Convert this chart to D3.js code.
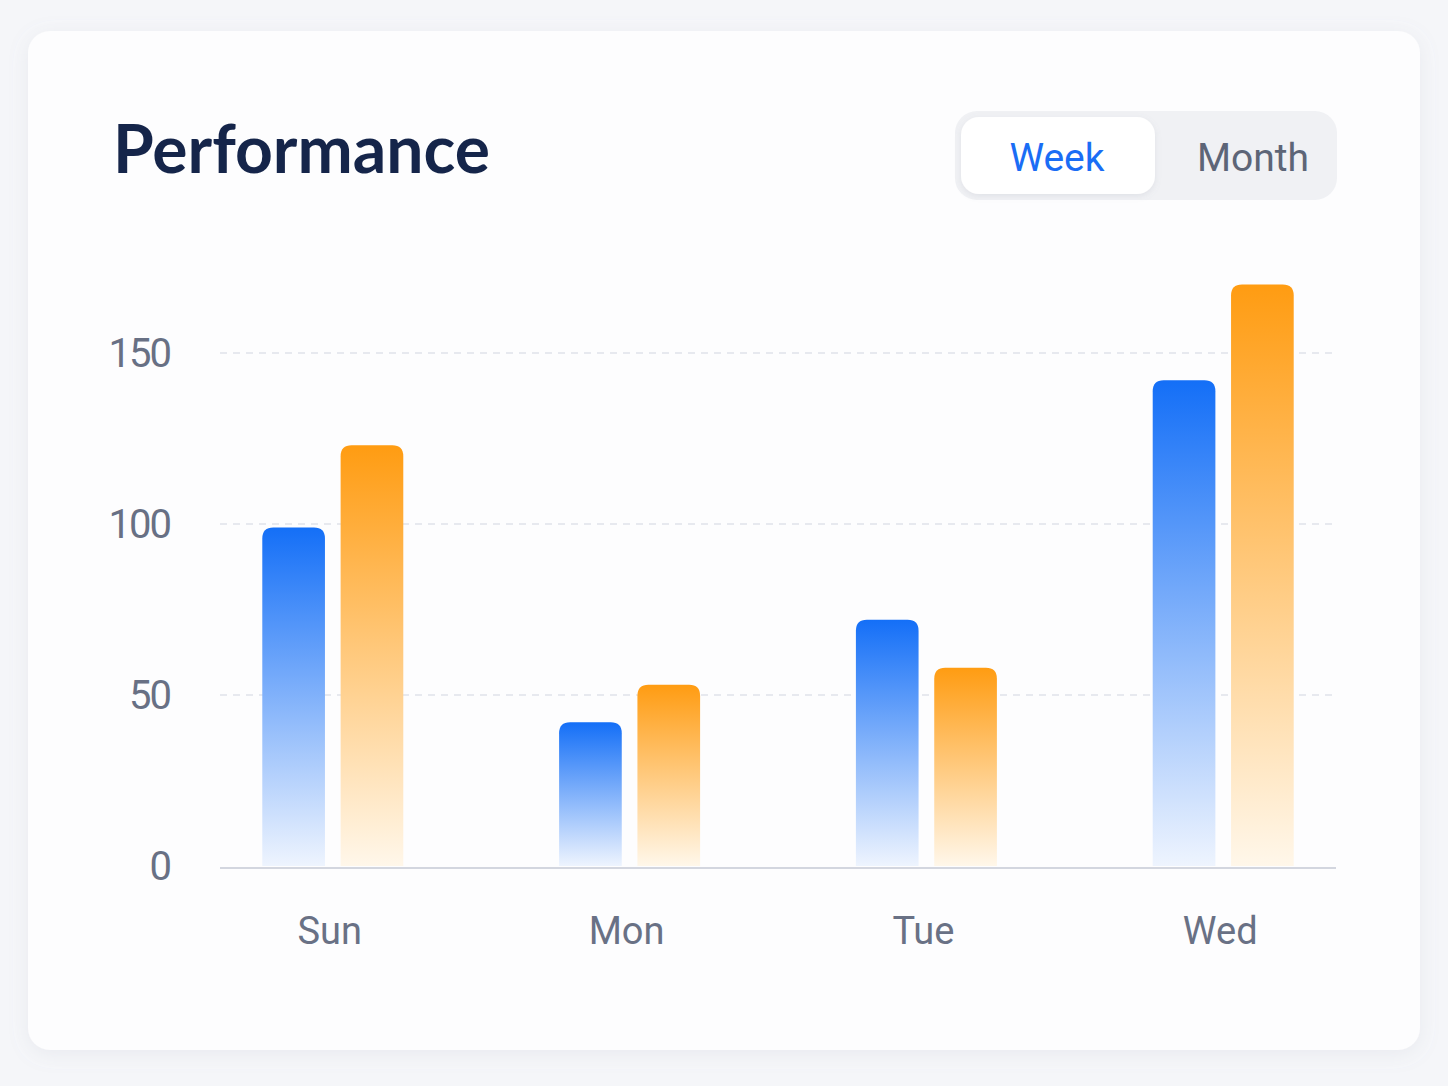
<!DOCTYPE html>
<html>
<head>
<meta charset="utf-8">
<script src="https://cdn.jsdelivr.net/npm/d3@7"></script>
<style>
  html, body { margin: 0; padding: 0; background: #f5f6f9; }
  svg { display: block; }
</style>
</head>
<body>
<div id="chart"></div>
<script>
const days = ["Sun", "Mon", "Tue", "Wed"];
const seriesKeys = ["blue", "orange"];
const blueValues = [99, 42, 72, 142];
const orangeValues = [123, 53, 58, 170];
const yTicks = [0, 50, 100, 150];
const toggleLabels = ["Week", "Month"];

const W = 1448, H = 1086;
const plot = { left: 220, right: 1336, top: 250, bottom: 866 };

const svg = d3.select("#chart").append("svg")
  .attr("width", W).attr("height", H)
  .style("font-family", "Roboto, 'Noto Sans', sans-serif");

const defs = svg.append("defs");

const shadow = defs.append("filter").attr("id", "cardShadow")
  .attr("x", "-10%").attr("y", "-10%").attr("width", "120%").attr("height", "120%");
shadow.append("feDropShadow").attr("dx", 0).attr("dy", 4).attr("stdDeviation", 10)
  .attr("flood-color", "#8a94a8").attr("flood-opacity", 0.12);

const btnShadow = defs.append("filter").attr("id", "btnShadow")
  .attr("x", "-20%").attr("y", "-30%").attr("width", "140%").attr("height", "160%");
btnShadow.append("feDropShadow").attr("dx", 0).attr("dy", 2).attr("stdDeviation", 3)
  .attr("flood-color", "#7d8799").attr("flood-opacity", 0.15);

const gradients = {
  blue: ["#146ff7", "#eef4fe"],
  orange: ["#ff9c12", "#fff7ea"],
};
Object.entries(gradients).forEach(([key, [top, bottom]]) => {
  const g = defs.append("linearGradient").attr("id", `grad-${key}`)
    .attr("x1", 0).attr("y1", 0).attr("x2", 0).attr("y2", 1);
  g.append("stop").attr("offset", "0%").attr("stop-color", top);
  g.append("stop").attr("offset", "100%").attr("stop-color", bottom);
});

// card
svg.append("rect")
  .attr("x", 28).attr("y", 31).attr("width", 1392).attr("height", 1019)
  .attr("rx", 22).attr("fill", "#fdfdfe")
  .attr("filter", "url(#cardShadow)");

// title
svg.append("text")
  .attr("x", 113).attr("y", 173)
  .attr("font-family", "Lato, Inter, sans-serif")
  .attr("font-weight", 700)
  .attr("font-size", 66)
  .attr("fill", "#15254a")
  .text("Performance");

// toggle
const toggle = svg.append("g");
toggle.append("rect")
  .attr("x", 955).attr("y", 111).attr("width", 382).attr("height", 89)
  .attr("rx", 22).attr("fill", "#f0f1f4");
toggle.append("rect")
  .attr("x", 961).attr("y", 117).attr("width", 194).attr("height", 77)
  .attr("rx", 18).attr("fill", "#ffffff")
  .attr("filter", "url(#btnShadow)");
toggle.selectAll("text.toggle-label")
  .data(toggleLabels)
  .join("text")
  .attr("class", "toggle-label")
  .attr("x", (d, i) => (i === 0 ? 1057 : 1253))
  .attr("y", 171)
  .attr("text-anchor", "middle")
  .attr("font-size", 39)
  .attr("fill", (d, i) => (i === 0 ? "#1a6df5" : "#5d6577"))
  .text((d) => d);

// scales
const x0 = d3.scalePoint().domain(days).range([plot.left, plot.right]).padding(0.38);
const x1 = d3.scaleBand().domain(seriesKeys).range([-70.5, 70.5]).paddingInner(0.2);
const y = d3.scaleLinear().domain([0, 150]).range([plot.bottom, 353]);

// grid
svg.append("g")
  .selectAll("line")
  .data(yTicks.filter((d) => d > 0))
  .join("line")
  .attr("x1", plot.left).attr("x2", plot.right)
  .attr("y1", (d) => y(d)).attr("y2", (d) => y(d))
  .attr("stroke", "#dfe2ea")
  .attr("stroke-width", 1.5)
  .attr("stroke-dasharray", "7 6");

// y labels
svg.append("g")
  .selectAll("text")
  .data(yTicks)
  .join("text")
  .attr("x", 170)
  .attr("y", (d) => y(d))
  .attr("dy", "0.36em")
  .attr("text-anchor", "end")
  .attr("font-size", 40)
  .attr("letter-spacing", -2)
  .attr("fill", "#687084")
  .text((d) => d);

// bars
const rows = days.map((day, i) => ({ day, blue: blueValues[i], orange: orangeValues[i] }));

function topRoundedBar(x, yTop, w, yBottom, r) {
  const rr = Math.min(r, w / 2, (yBottom - yTop) / 2);
  return `M${x},${yBottom}V${yTop + rr}Q${x},${yTop} ${x + rr},${yTop}` +
    `H${x + w - rr}Q${x + w},${yTop} ${x + w},${yTop + rr}V${yBottom}Z`;
}

svg.append("g")
  .selectAll("g")
  .data(rows)
  .join("g")
  .attr("transform", (d) => `translate(${x0(d.day)},0)`)
  .selectAll("path")
  .data((d) => seriesKeys.map((key) => ({ key, value: d[key] })))
  .join("path")
  .attr("d", (d) => topRoundedBar(x1(d.key), y(d.value), x1.bandwidth(), y(0), 11))
  .attr("fill", (d) => `url(#grad-${d.key})`);

// baseline
svg.append("line")
  .attr("x1", plot.left).attr("x2", plot.right)
  .attr("y1", 868).attr("y2", 868)
  .attr("stroke", "#d3d6df")
  .attr("stroke-width", 2);

// x labels
svg.append("g")
  .selectAll("text")
  .data(days)
  .join("text")
  .attr("x", (d) => x0(d) - 3)
  .attr("y", 944)
  .attr("text-anchor", "middle")
  .attr("font-size", 38)
  .attr("fill", "#697185")
  .text((d) => d);
</script>
</body>
</html>
